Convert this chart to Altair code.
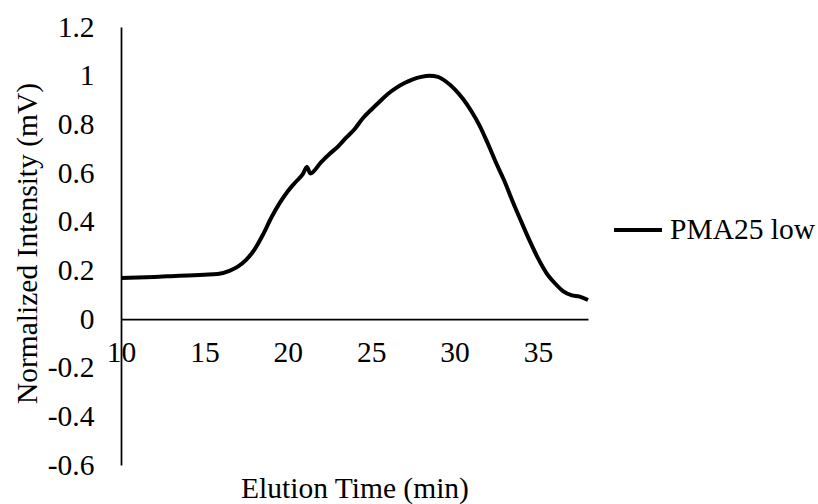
import altair as alt
import pandas as pd

# Elution profile (normalized detector signal vs. time)
time_min = [10.0, 11.0, 12.0, 13.0, 14.0, 15.0, 15.8, 16.5, 17.0, 17.5,
            18.0, 18.5, 19.0, 19.5, 20.0, 20.5, 20.9, 21.15, 21.35, 22.0,
            22.5, 23.0, 23.5, 24.0, 24.5, 25.0, 25.5, 26.0, 26.5, 27.0,
            27.5, 28.0, 28.5, 29.0, 29.5, 30.0, 30.5, 31.0, 31.5, 32.0,
            32.5, 33.0, 33.5, 34.0, 34.5, 35.0, 35.5, 36.0, 36.5, 37.0,
            37.5, 38.0]
intensity = [0.168, 0.171, 0.173, 0.176, 0.179, 0.182, 0.185, 0.198, 0.215, 0.243,
             0.285, 0.345, 0.415, 0.475, 0.525, 0.565, 0.595, 0.625, 0.598, 0.645,
             0.678, 0.708, 0.745, 0.780, 0.825, 0.860, 0.893, 0.925, 0.950, 0.970,
             0.985, 0.995, 1.000, 0.995, 0.975, 0.945, 0.905, 0.855, 0.795, 0.720,
             0.640, 0.565, 0.480, 0.400, 0.322, 0.250, 0.190, 0.148, 0.115, 0.098,
             0.092, 0.078]
series_name = "PMA25 low"

x_ticks = [10, 15, 20, 25, 30, 35]
y_ticks = [-0.6, -0.4, -0.2, 0, 0.2, 0.4, 0.6, 0.8, 1, 1.2]

df = pd.DataFrame({"time": time_min, "intensity": intensity, "series": series_name})

FONT = "Liberation Serif"
FS = 29.5
PLOT_W = 467
PLOT_H = 438

x_axis = alt.Axis(
    title="Elution Time (min)",
    values=x_ticks,
    offset=-146,  # axis line sits on y = 0
    grid=False,
    ticks=False,
    tickSize=0,
    domainColor="black",
    domainWidth=1.75,
    labelPadding=19,
    labelFontSize=FS,
    labelFlush=False,
    titleFontSize=FS,
    titleFontWeight="normal",
    titleY=178,
    titleBaseline="alphabetic",
)

y_axis = alt.Axis(
    title="Normalized Intensity (mV)",
    values=y_ticks,
    labelExpr="datum.value < 0 ? '-' + format(-datum.value, '.1~f') : format(datum.value, '.1~f')",
    grid=False,
    ticks=False,
    tickSize=0,
    domainColor="black",
    domainWidth=1.75,
    labelPadding=27,
    labelFontSize=FS,
    titleFontSize=FS,
    titleFontWeight="normal",
    titleX=-85,
    titleY=216,
    titleAlign="center",
    titleBaseline="alphabetic",
)

chart = (
    alt.Chart(df)
    .mark_line(strokeWidth=4, interpolate="monotone")
    .encode(
        x=alt.X("time:Q", scale=alt.Scale(domain=[10, 38], nice=False, zero=False), axis=x_axis),
        y=alt.Y("intensity:Q", scale=alt.Scale(domain=[-0.6, 1.2], nice=False), axis=y_axis),
        color=alt.Color(
            "series:N",
            scale=alt.Scale(domain=[series_name], range=["black"]),
            legend=alt.Legend(
                title=None,
                orient="none",
                legendX=491,
                legendY=177,
                symbolType="stroke",
                symbolSize=2304,
                symbolStrokeWidth=4,
                labelFontSize=FS,
                labelFont=FONT,
                labelColor="black",
                labelOffset=6,
                padding=0,
            ),
        ),
    )
    .properties(
        width=PLOT_W,
        height=PLOT_H,
        autosize=alt.AutoSizeParams(type="none"),
        padding={"left": 121, "top": 27, "right": 230, "bottom": 39},
        background="white",
    )
    .configure_view(stroke=None)
    .configure_axis(labelFont=FONT, titleFont=FONT, labelColor="black", titleColor="black")
)

chart.save("out.html", embed_options={"renderer": "svg", "actions": False})
